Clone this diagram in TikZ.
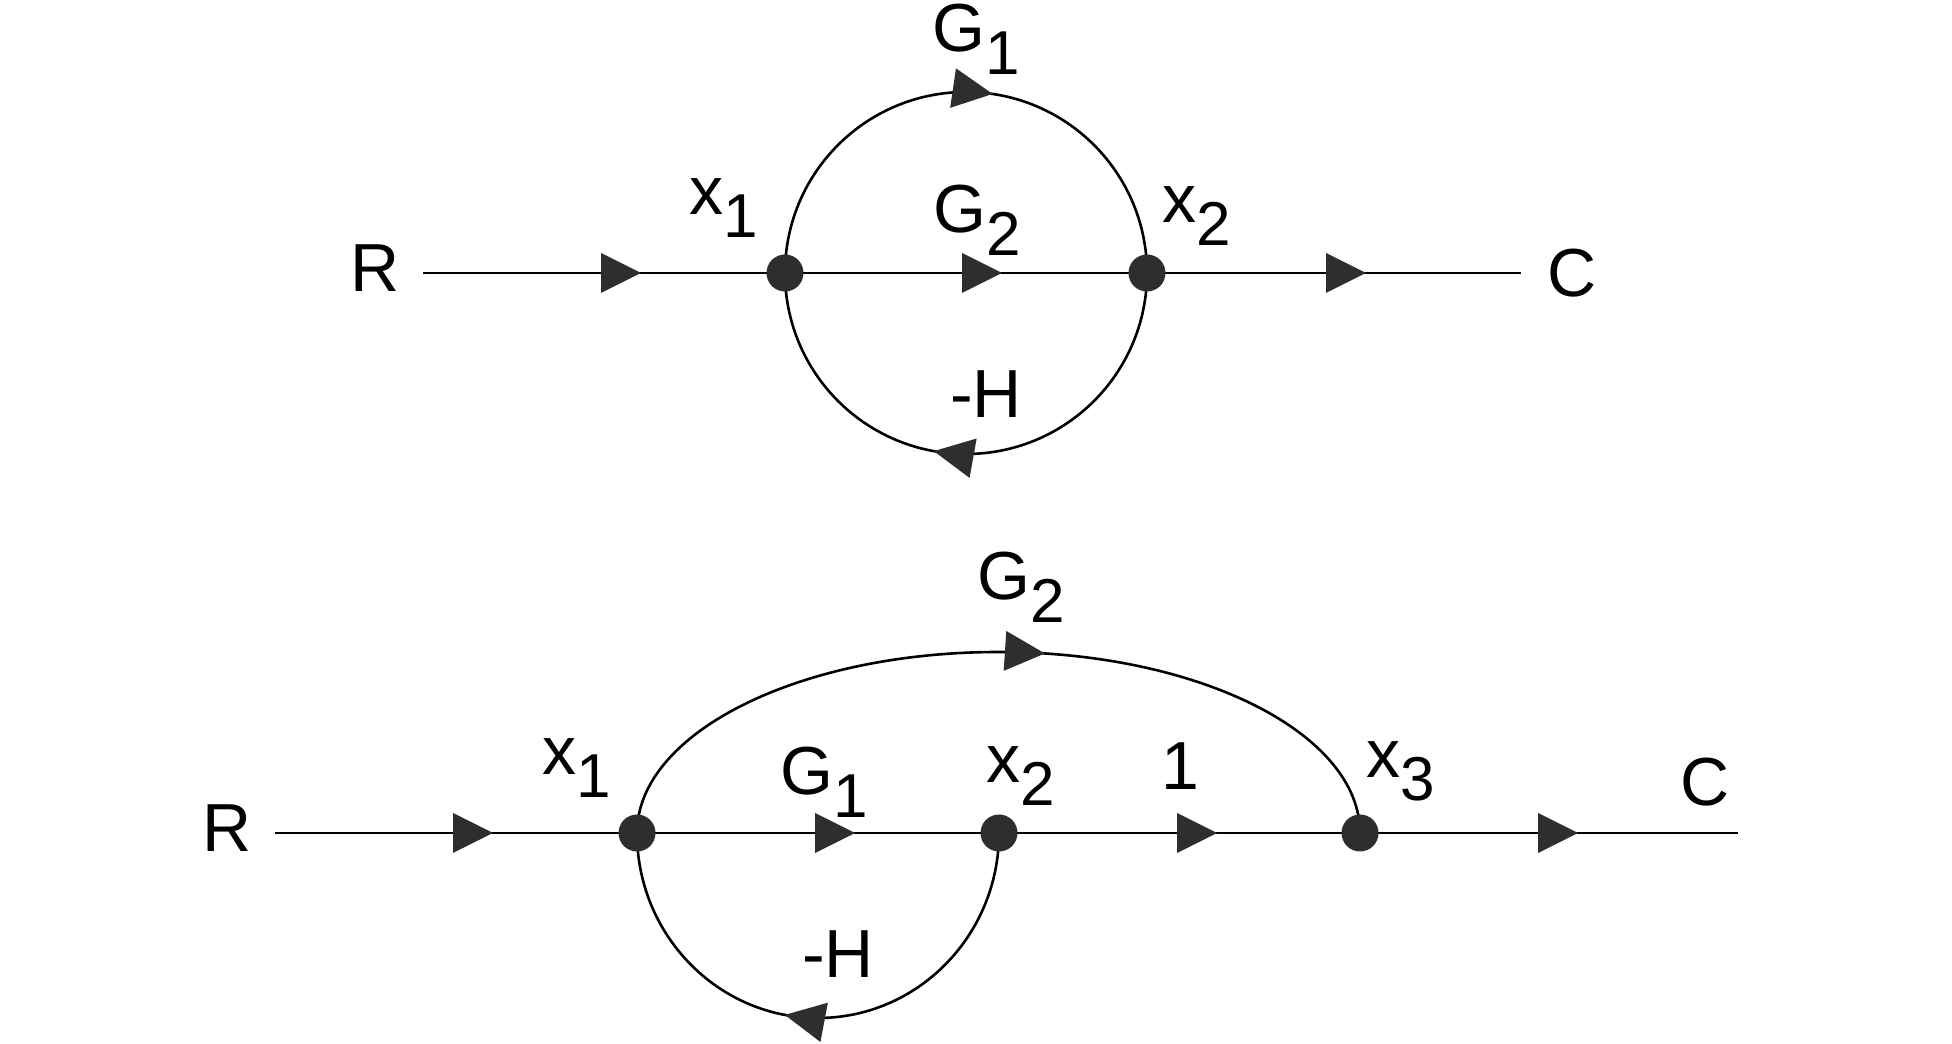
\documentclass[tikz,border=0pt]{standalone}
\usepackage{fontspec}
\setmainfont{Liberation Sans}
\usetikzlibrary{decorations.markings}
\pgfdeclarelayer{bg}
\pgfsetlayers{bg,main}
\definecolor{dotc}{HTML}{2E2E2E}
\newcommand{\sbs}[1]{\raisebox{-23pt}{\fontsize{62}{70}\selectfont #1}}
\tikzset{
  dotnode/.style={circle,fill=dotc,inner sep=0pt,minimum size=37pt},
  lbl/.style={anchor=base,inner sep=0pt,font=\fontsize{68}{80}\selectfont},
  wire/.style={draw=black,line width=2.6pt},
  tri/.style={postaction={decorate,decoration={markings,
      mark=at position #1 with {\fill[dotc] (0pt,0pt) -- (-40pt,20pt) -- (-40pt,-20pt) -- cycle;}}}},
}
\begin{document}
\begin{tikzpicture}[x=1pt,y=1pt]
\useasboundingbox (0,0) rectangle (1952,1044);
% ---------- top graph ----------
\node[dotnode] (a1) at (785,771) {};
\node[dotnode] (a2) at (1147,771) {};
\coordinate (aR) at (423,771);
\coordinate (aC) at (1521,771);
\node[lbl] (aRl) at (375,752) {R};
\node[lbl] (aCl) at (1572,747) {C};
\node[lbl] (ax1) at (724,829) {x\sbs{1}};
\node[lbl] (ax2) at (1197,821) {x\sbs{2}};
\node[lbl] (aG1) at (976,992) {G\sbs{1}};
\node[lbl] (aG2) at (977,811) {G\sbs{2}};
\node[lbl] (aH) at (986,626) {-H};
\begin{pgfonlayer}{bg}
\draw[wire,tri=218pt] (aR) -- (a1.center);
\draw[wire,tri=217pt] (a1.center) -- (a2.center);
\draw[wire,tri=219pt] (a2.center) -- (aC);
\draw[wire,tri=0.547] (a1.center) arc[start angle=180,end angle=0,radius=181];
\draw[wire,tri=0.557] (a2.center) arc[start angle=0,end angle=-180,radius=181];
\end{pgfonlayer}
% ---------- bottom graph ----------
\node[dotnode] (b1) at (637,211) {};
\node[dotnode] (b2) at (999,211) {};
\node[dotnode] (b3) at (1360,211) {};
\coordinate (bR) at (275,211);
\coordinate (bC) at (1738,211);
\node[lbl] (bRl) at (227,192) {R};
\node[lbl] (bCl) at (1705,238) {C};
\node[lbl] (bx1) at (577,269) {x\sbs{1}};
\node[lbl] (bx2) at (1021,261) {x\sbs{2}};
\node[lbl] (bx3) at (1401,266) {x\sbs{3}};
\node[lbl] (bG1) at (824,249) {G\sbs{1}};
\node[lbl] (bG2) at (1021,444) {G\sbs{2}};
\node[lbl] (bone) at (1180,254) {1};
\node[lbl] (bH) at (838,66) {-H};
\begin{pgfonlayer}{bg}
\draw[wire,tri=218pt] (bR) -- (b1.center);
\draw[wire,tri=218pt] (b1.center) -- (b2.center);
\draw[wire,tri=218pt] (b2.center) -- (b3.center);
\draw[wire,tri=218pt] (b3.center) -- (bC);
\draw[wire,tri=0.553] (b1.center) arc[start angle=180,end angle=0,x radius=361.5,y radius=181];
\draw[wire,tri=0.558] (b2.center) arc[start angle=0,end angle=-180,x radius=181,y radius=185];
\end{pgfonlayer}
\end{tikzpicture}
\end{document}
